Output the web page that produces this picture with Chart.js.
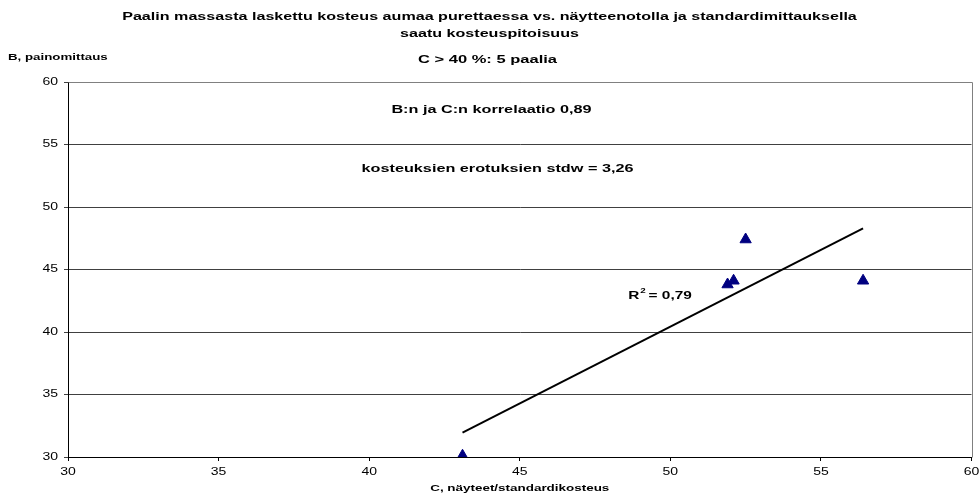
<!DOCTYPE html>
<html>
<head>
<meta charset="utf-8">
<script src="https://cdn.jsdelivr.net/npm/chart.js@4/dist/chart.umd.min.js"></script>
<style>
  html, body { margin: 0; padding: 0; background: #fff; }
  #wrap { width: 979px; height: 496px; }
</style>
</head>
<body>
<div id="wrap"><canvas id="chart" width="979" height="496"></canvas></div>
<script>
// Bale moisture: sampling / standard method (C) vs. weight-based (B)
const cMoisture = [43.1, 51.9, 52.1, 52.5, 56.4];
const bMoisture = [30.1, 43.8, 44.1, 47.4, 44.1];

const xTickValues = [30, 35, 40, 45, 50, 55, 60];
const yTickValues = [30, 35, 40, 45, 50, 55, 60];

const titleLines = [
  'Paalin massasta laskettu kosteus aumaa purettaessa vs. näytteenotolla ja standardimittauksella',
  'saatu kosteuspitoisuus'
];
const subtitle = 'C > 40 %: 5 paalia';
const yAxisTitle = 'B, painomittaus';
const xAxisTitle = 'C, näyteet/standardikosteus';
const correlationNote = 'B:n ja C:n korrelaatio 0,89';
const stdNote = 'kosteuksien erotuksien stdw = 3,26';
const rSquaredValue = '0,79';

// least-squares linear trend through the points
function linearTrend(xs, ys) {
  const n = xs.length;
  const mx = xs.reduce((a, b) => a + b, 0) / n;
  const my = ys.reduce((a, b) => a + b, 0) / n;
  let sxy = 0, sxx = 0;
  for (let i = 0; i < n; i++) {
    sxy += (xs[i] - mx) * (ys[i] - my);
    sxx += (xs[i] - mx) * (xs[i] - mx);
  }
  const slope = sxy / sxx;
  const icpt = my - slope * mx;
  const x0 = Math.min(...xs), x1 = Math.max(...xs);
  return [{ x: x0, y: icpt + slope * x0 }, { x: x1, y: icpt + slope * x1 }];
}

const points = cMoisture.map((c, i) => ({ x: c, y: bMoisture[i] }));
const trend = linearTrend(cMoisture, bMoisture);

const FONT = '"Liberation Sans", Arial, sans-serif';
const STRETCH = 1.4; // wide lettering

// draw text widened horizontally; align: 'left' | 'center' | 'right'
function wideText(ctx, text, x, y, font, align) {
  ctx.save();
  ctx.font = font;
  ctx.textAlign = 'left';
  ctx.textBaseline = 'middle';
  const w = ctx.measureText(text).width * STRETCH;
  let left = x;
  if (align === 'center') left = x - w / 2;
  else if (align === 'right') left = x - w;
  ctx.translate(left, y);
  ctx.scale(STRETCH, 1);
  ctx.fillText(text, 0, 0);
  ctx.restore();
  return w;
}

const textPlugin = {
  id: 'chartTexts',
  afterDraw(chart) {
    const ctx = chart.ctx;
    const area = chart.chartArea;
    const xs = chart.scales.x, ys = chart.scales.y;
    ctx.save();
    // plot frame (top and right)
    ctx.strokeStyle = '#808080';
    ctx.lineWidth = 1;
    ctx.beginPath();
    ctx.moveTo(Math.round(area.left) + 0.5, Math.round(area.top) + 0.5);
    ctx.lineTo(Math.round(area.right) + 0.5, Math.round(area.top) + 0.5);
    ctx.lineTo(Math.round(area.right) + 0.5, Math.round(area.bottom) + 0.5);
    ctx.stroke();

    ctx.fillStyle = '#000';
    const cx = chart.width / 2;
    wideText(ctx, titleLines[0], cx, 17, 'bold 11.5px ' + FONT, 'center');
    wideText(ctx, titleLines[1], cx, 34, 'bold 11.5px ' + FONT, 'center');
    wideText(ctx, subtitle, cx - 2, 60, 'bold 11.8px ' + FONT, 'center');
    wideText(ctx, correlationNote, cx + 2, 110, 'bold 11.6px ' + FONT, 'center');
    wideText(ctx, stdNote, cx + 8, 169, 'bold 11.6px ' + FONT, 'center');

    wideText(ctx, yAxisTitle, 8, 57, 'bold 9.5px ' + FONT, 'left');
    wideText(ctx, xAxisTitle, (area.left + area.right) / 2, 488, 'bold 9.6px ' + FONT, 'center');

    // tick labels along both axes
    const tickFont = '10px ' + FONT;
    xTickValues.forEach(v => {
      wideText(ctx, String(v), xs.getPixelForValue(v), area.bottom + 15, tickFont, 'center');
    });
    yTickValues.forEach(v => {
      wideText(ctx, String(v), area.left - 10, ys.getPixelForValue(v), tickFont, 'right');
    });

    // R² label beside the trend line
    const lx = xs.getPixelForValue(48.6), ly = ys.getPixelForValue(42.9);
    const rw = wideText(ctx, 'R', lx, ly, 'bold 11px ' + FONT, 'left');
    wideText(ctx, '2', lx + rw + 1, ly - 5, 'bold 7px ' + FONT, 'left');
    wideText(ctx, ' = ' + rSquaredValue, lx + rw + 5, ly, 'bold 11px ' + FONT, 'left');
    ctx.restore();
  }
};

new Chart(document.getElementById('chart'), {
  type: 'scatter',
  data: {
    datasets: [
      {
        label: 'B vs C',
        data: points,
        pointStyle: 'triangle',
        pointRadius: 6.5,
        pointHoverRadius: 6.5,
        backgroundColor: '#000080',
        borderColor: '#000080',
        borderWidth: 1,
        order: 1
      },
      {
        label: 'trend',
        type: 'line',
        data: trend,
        borderColor: '#000',
        borderWidth: 2,
        pointRadius: 0,
        fill: false,
        order: 2
      }
    ]
  },
  options: {
    responsive: false,
    animation: false,
    events: [],
    layout: { padding: { top: 82, right: 7, left: 0, bottom: 0 } },
    plugins: {
      legend: { display: false },
      tooltip: { enabled: false },
      title: { display: false }
    },
    scales: {
      x: {
        type: 'linear',
        min: 30, max: 60,
        afterFit(scale) { scale.height = 39; },
        afterBuildTicks(scale) { scale.ticks = xTickValues.map(v => ({ value: v })); },
        grid: { drawOnChartArea: false, drawTicks: true, tickLength: 4, color: '#000' },
        border: { display: true, color: '#000', width: 1 },
        ticks: { display: false }
      },
      y: {
        type: 'linear',
        min: 30, max: 60,
        afterFit(scale) { scale.width = 68; },
        afterBuildTicks(scale) { scale.ticks = yTickValues.map(v => ({ value: v })); },
        grid: { drawOnChartArea: true, drawTicks: true, tickLength: 4, color: '#404040' },
        border: { display: true, color: '#000', width: 1 },
        ticks: { display: false }
      }
    }
  },
  plugins: [textPlugin]
});
</script>
</body>
</html>
